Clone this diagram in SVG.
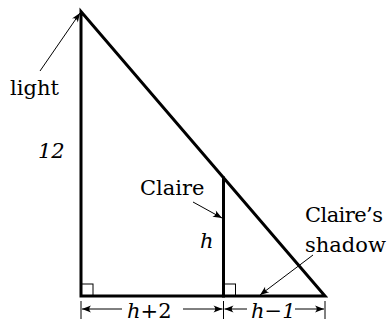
<svg xmlns="http://www.w3.org/2000/svg" width="391" height="322" viewBox="0 0 391 322">
<style>
.thick{stroke:#000;stroke-width:3;fill:none;stroke-linecap:square}
.thin{stroke:#000;stroke-width:1;fill:none}
.arr{stroke:#000;stroke-width:1;fill:none;marker-end:url(#ah)}
text{font-family:"DejaVu Serif","Liberation Serif",serif;font-size:21px;fill:#000}
.it{font-style:italic}
</style>
<defs>
<marker id="ah" viewBox="-10 -5 12 10" refX="0" refY="0" markerWidth="12" markerHeight="10" markerUnits="userSpaceOnUse" orient="auto">
<path d="M0,0 L-9,-3.5 Q-5.5,0 -9,3.5 Z" fill="#000"/>
</marker>
</defs>
<g id="triangle">
<path class="thick" d="M81,296 L81,11.5 L325,296 Z" stroke-linejoin="miter"/>
<rect class="thin" x="81" y="284" width="12" height="12"/>
</g>
<g id="claire">
<line class="thick" x1="223.5" y1="178" x2="223.5" y2="296"/>
<rect class="thin" x="223.5" y="284" width="12" height="12"/>
<text x="140" y="195">Claire</text>
<text class="it" x="200" y="248">h</text>
</g>
<g id="light">
<text x="10" y="95">light</text>
</g>
<g id="height-label">
<text class="it" x="38" y="158">12</text>
</g>
<g id="shadow">
<text x="305" y="222" textLength="78">Claire’s</text>
<text x="305" y="252">shadow</text>
</g>
<g id="dimensions">
<line class="thin" x1="81" y1="301" x2="81" y2="319"/>
<line class="thin" x1="223.5" y1="301" x2="223.5" y2="319"/>
<line class="thin" x1="325" y1="301" x2="325" y2="319"/>
<text class="it" x="127" y="318">h<tspan font-style="normal">+2</tspan></text>
<text class="it" x="251" y="318">h<tspan font-style="normal">−</tspan>1</text>
</g>
<g id="connectors">
<line class="arr" x1="40" y1="71" x2="80" y2="13"/>
<line class="arr" x1="193" y1="202" x2="222" y2="218"/>
<line class="arr" x1="313" y1="255" x2="260" y2="295"/>
<line class="arr" x1="122" y1="309" x2="82" y2="309"/>
<line class="arr" x1="183" y1="309" x2="222.5" y2="309"/>
<line class="arr" x1="247" y1="309" x2="224.5" y2="309"/>
<line class="arr" x1="295" y1="309" x2="324" y2="309"/>
</g>
</svg>
